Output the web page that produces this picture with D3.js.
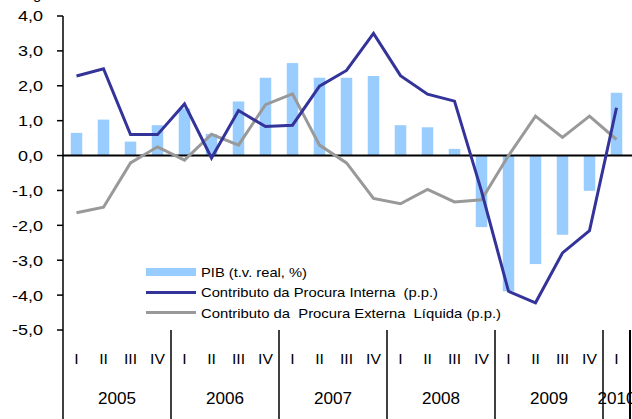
<!DOCTYPE html>
<html>
<head>
<meta charset="utf-8">
<script src="https://cdn.jsdelivr.net/npm/d3@7"></script>
<style>
html,body{margin:0;padding:0;background:#fff;}
svg{display:block;font-family:"Liberation Sans",Arial,sans-serif;}
</style>
</head>
<body>
<svg id="chart" width="632" height="419"></svg>
<script>
const quarters = ["I","II","III","IV","I","II","III","IV","I","II","III","IV","I","II","III","IV","I","II","III","IV","I"];
const years = ["2005","2006","2007","2008","2009","2010"];
const pib = [0.65,1.03,0.40,0.87, 1.35,0.62,1.55,2.23, 2.65,2.23,2.23,2.28, 0.87,0.81,0.19,-2.05, -3.89,-3.11,-2.27,-1.01, 1.80];
const interna = [2.28,2.49,0.60,0.60, 1.48,-0.07,1.29,0.83, 0.87,1.99,2.44,3.50, 2.29,1.76,1.56,-1.02, -3.89,-4.22,-2.79,-2.15, 1.37];
const externa = [-1.64,-1.48,-0.21,0.25, -0.13,0.61,0.30,1.46, 1.77,0.30,-0.21,-1.23, -1.38,-0.97,-1.33,-1.27, 0.00,1.13,0.52,1.13,0.46];
const yTicks = [4,3,2,1,0,-1,-2,-3,-4,-5];
const legendLabels = ["PIB (t.v. real, %)","Contributo da Procura Interna  (p.p.)","Contributo da  Procura Externa  Líquida (p.p.)"];

const svg = d3.select("#chart");
const idx = d3.range(quarters.length);
const pIn = 0.574;
const x = d3.scaleBand().domain(idx).range([63, 630]).paddingInner(pIn).paddingOuter(pIn/2);
const y = d3.scaleLinear().domain([-5, 4]).range([330, 16]);
const bw = x.bandwidth(), step = x.step();
const cx = i => x(i) + bw/2;

// bars
svg.append("g").selectAll("rect").data(pib).join("rect")
  .attr("x", (d,i) => x(i)).attr("width", bw)
  .attr("y", d => y(Math.max(0,d))).attr("height", d => Math.abs(y(d)-y(0)))
  .attr("fill", "#99ccff");

// zero line
svg.append("line").attr("x1", 63).attr("x2", 632).attr("y1", y(0)).attr("y2", y(0))
  .attr("stroke", "#000").attr("stroke-width", 2);

// lines
const line = d3.line().x((d,i) => cx(i)).y(d => y(d));
svg.append("path").datum(externa).attr("d", line).attr("fill","none")
  .attr("stroke", "#999999").attr("stroke-width", 3).attr("stroke-linejoin","miter");
svg.append("path").datum(interna).attr("d", line).attr("fill","none")
  .attr("stroke", "#333399").attr("stroke-width", 3).attr("stroke-linejoin","miter");

// y axis
svg.append("line").attr("x1", 63).attr("x2", 63).attr("y1", y(4)).attr("y2", 419)
  .attr("stroke", "#000").attr("stroke-width", 1.5);
const yt = svg.append("g");
yTicks.forEach(t => {
  yt.append("line").attr("x1", 57).attr("x2", 63).attr("y1", y(t)).attr("y2", y(t))
    .attr("stroke", "#000").attr("stroke-width", 1.5);
  yt.append("text").attr("transform", `translate(43,${y(t)}) scale(1.2,1)`)
    .attr("text-anchor", "end").attr("dy", "0.36em")
    .style("font-size", "15px").attr("fill", "#000")
    .text(d3.format(".1f")(t).replace(".", ",").replace("−","-"));
});

// category axis
const cat = svg.append("g");
quarters.forEach((q,i) => {
  cat.append("text").attr("transform", `translate(${cx(i)},364) scale(1.05,1)`)
    .attr("text-anchor","middle").style("font-size","15px").text(q);
});
years.forEach((yr,k) => {
  const first = k*4;
  const last = Math.min(first+3, quarters.length-1);
  const left = x(first) - (step-bw)/2;
  const right = x(last) + bw + (step-bw)/2;
  cat.append("text").attr("transform", `translate(${(left+right)/2},404) scale(1.07,1)`)
    .attr("text-anchor","middle").style("font-size","16px").text(yr);
  cat.append("line").attr("x1", right).attr("x2", right).attr("y1", 330).attr("y2", 419)
    .attr("stroke","#000").attr("stroke-width", k === years.length-1 ? 2 : 1.5);
});

// cut-off title fragment
svg.append("text").attr("x", 33).attr("y", -1.5).style("font-size","15px").text("g");

// legend
const lg = svg.append("g");
lg.append("rect").attr("x",146).attr("y",268).attr("width",50).attr("height",8).attr("fill","#99ccff");
lg.append("line").attr("x1",146).attr("x2",196).attr("y1",292.5).attr("y2",292.5).attr("stroke","#333399").attr("stroke-width",3);
lg.append("line").attr("x1",146).attr("x2",196).attr("y1",312.5).attr("y2",312.5).attr("stroke","#999999").attr("stroke-width",3);
const lens = [106, 237, 300];
const bases = [277, 297, 317.5];
legendLabels.forEach((t,i) => {
  lg.append("text").attr("x",201).attr("y",bases[i]).style("font-size","13px")
    .style("white-space","pre").attr("textLength", lens[i]).attr("lengthAdjust","spacingAndGlyphs")
    .text(t);
});
</script>
</body>
</html>
